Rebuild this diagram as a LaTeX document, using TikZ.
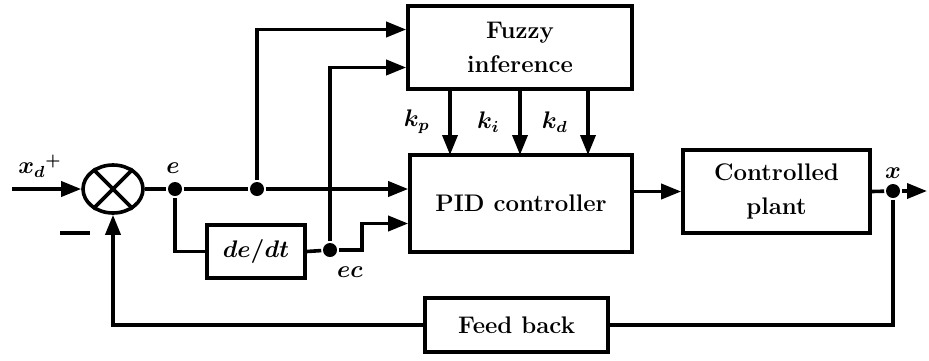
\documentclass[tikz,border=0pt]{standalone}
\usetikzlibrary{shapes.geometric,arrows.meta}
\begin{document}
\begin{tikzpicture}[x=0.5pt, y=-0.5pt, line width=1.8pt, >={Triangle[length=10pt,width=7.5pt]},
  block/.style={draw, rectangle, inner sep=0pt, align=center, font=\bfseries\fontsize{12}{17}\selectfont},
  dot/.style={circle, fill, inner sep=0pt, minimum size=7pt},
  lbl/.style={font=\boldmath\fontsize{12}{14}\selectfont}]
\useasboundingbox (0,0) rectangle (929,360);
\node[draw, ellipse, inner sep=0pt, minimum width=30pt, minimum height=24pt] (sum) at (113,189) {};
\draw (sum.45) -- (sum.225);
\draw (sum.135) -- (sum.315);
\node[block, minimum width=112pt, minimum height=41.5pt] (fuzzy) at (520,47.5) {Fuzzy\\inference};
\node[block, minimum width=111pt, minimum height=48.5pt] (pid) at (521,203.5) {PID controller};
\node[block, minimum width=93.5pt, minimum height=41.5pt] (plant) at (776.5,191.5) {Controlled\\plant};
\node[block, lbl, minimum width=49pt, minimum height=26.5pt] (dedt) at (256,251.5) {$de/dt$};
\node[block, minimum width=91.5pt, minimum height=27pt] (fbk) at (516.5,325) {Feed back};
\node[dot] (e) at (175,189) {};
\node[dot] (fb) at (257,189) {};
\node[dot] (ec) at (330,250) {};
\node[dot] (x) at (893,191) {};
\coordinate (in) at (12,189);
\coordinate (out) at (927,191);
\node[lbl] at (40,166) {$x_d{}^{+}$};
\node at (75,233) {\rule{15pt}{1.8pt}};
\node[lbl] at (173,168) {$e$};
\node[lbl] at (350,272) {$ec$};
\node[lbl] at (893,173) {$x$};
\draw[->] (in) -- (sum.west);
\draw (sum.east) -- (e) -- (fb);
\draw[->] (fb) -- (fb -| pid.west);
\draw[->] (fb) |- ([yshift=9pt]fuzzy.west);
\draw[->] (ec) |- ([yshift=-10pt]fuzzy.west);
\draw (e) |- (dedt.west);
\draw (dedt.east) -- (ec);
\draw[->] (ec) -- ++(32,0) |- ([yshift=-10pt]pid.west);
\draw[->] (450,89) -- node[lbl, left=6pt] {$k_p$} (450,155);
\draw[->] (520,89) -- node[lbl, left=6pt] {$k_i$} (520,155);
\draw[->] (588,89) -- node[lbl, left=6pt] {$k_d$} (588,155);
\draw[->] (pid.east |- plant.west) -- (plant.west);
\draw (plant.east) -- (x);
\draw[->] (x) -- (out);
\draw (x) |- (fbk.east);
\draw[->] (fbk.west) -| (sum.south);
\end{tikzpicture}
\end{document}
